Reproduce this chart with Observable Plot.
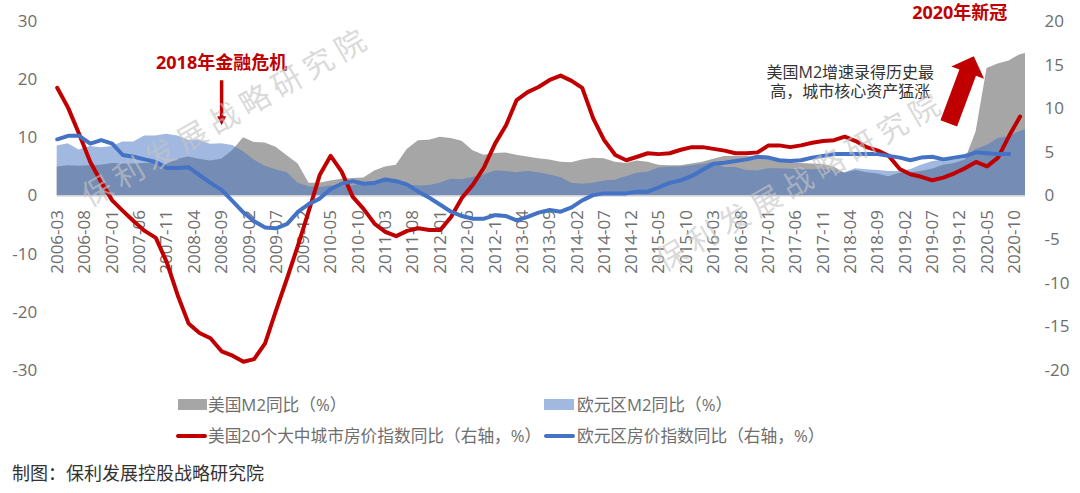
<!DOCTYPE html>
<html><head><meta charset="utf-8">
<script src="https://cdn.jsdelivr.net/npm/d3@7"></script>
<script src="https://cdn.jsdelivr.net/npm/@observablehq/plot@0.6"></script>
<style>
html,body{margin:0;padding:0;background:#fff}
#page{position:relative;width:1080px;height:493px;overflow:hidden;font-family:"Open Sans","Noto Sans CJK SC",sans-serif}
#chart{position:absolute;left:0;top:0}
.lg{position:absolute;font-size:16.7px;line-height:20px;color:#6e6e6e;white-space:nowrap}
.sw{position:absolute}
#cap{position:absolute;left:12px;top:461px;font-size:18px;line-height:24px;color:#333;white-space:nowrap}
</style></head><body>
<div id="page">
<div id="chart"></div>
<div class="sw" style="left:178px;top:399px;width:29px;height:11px;background:#A6A6A6"></div>
<div class="lg" style="left:208px;top:395px">美国M2同比（%）</div>
<div class="sw" style="left:544px;top:399px;width:30px;height:11px;background:#A1B8E1"></div>
<div class="lg" style="left:577px;top:395px">欧元区M2同比（%）</div>
<div class="sw" style="left:176px;top:434px;width:31px;height:4px;border-radius:2px;background:#C00000"></div>
<div class="lg" style="left:208px;top:426px">美国20个大中城市房价指数同比（右轴，%）</div>
<div class="sw" style="left:544px;top:434px;width:31px;height:4px;border-radius:2px;background:#4472C4"></div>
<div class="lg" style="left:577px;top:426px">欧元区房价指数同比（右轴，%）</div>
<div id="cap">制图：保利发展控股战略研究院</div>
</div>
<script>
const tickLabels = ["2006-03","2006-08","2007-01","2007-06","2007-11","2008-04","2008-09","2009-02","2009-07","2009-12","2010-05","2010-10","2011-03","2011-08","2012-01","2012-06","2012-11","2013-04","2013-09","2014-02","2014-07","2014-12","2015-05","2015-10","2016-03","2016-08","2017-01","2017-06","2017-11","2018-04","2018-09","2019-02","2019-07","2019-12","2020-05","2020-10"];

// left axis, %
const usM2 = [5.0,5.2,5.1,5.2,5.3,5.6,5.5,5.5,5.6,5.6,5.4,6.3,6.7,6.3,6.0,6.3,7.8,10.0,9.2,9.1,8.4,6.9,5.5,2.2,2.2,2.6,2.9,3.0,
 3.1,4.3,5.0,5.3,8.0,9.5,9.6,10.1,9.9,9.4,7.8,7.0,7.3,7.4,7.0,6.7,6.4,6.2,5.8,5.7,6.2,6.5,6.4,5.8,5.6,6.0,5.8,5.3,5.2,5.2,5.5,5.8,6.3,
 6.8,6.8,6.8,6.6,6.3,6.0,5.7,5.6,5.5,5.4,5.0,3.9,4.4,4.0,3.8,3.3,3.9,4.0,4.2,4.6,5.3,5.6,6.2,11,21.9,22.7,23.2,24.3,24.5];
const euM2 = [8.6,9.0,7.9,8.5,8.3,8.5,9.3,9.3,10.3,10.3,10.6,10.3,9.6,9.6,8.9,9.0,8.7,7.6,6.2,5.1,4.5,4.0,2.2,1.6,1.4,1.7,1.6,1.7,
 2.2,2.5,2.5,2.4,1.9,1.7,1.8,2.2,2.9,2.8,3.2,3.6,4.3,4.2,4.0,4.2,4.0,3.6,3.2,2.2,2.0,2.2,2.6,2.7,3.3,3.9,4.1,4.8,5.0,5.0,5.2,5.4,5.8,
 4.9,4.9,4.4,4.3,4.7,4.7,4.6,4.5,4.5,4.6,4.3,4.0,4.7,4.5,4.4,4.2,4.2,4.5,5.3,5.9,6.2,6.2,6.5,8.0,8.7,9.9,10.2,11.1,11.4];
// right axis, %
const usHouse = [12.4,10.1,7.1,3.9,1.6,-0.5,-1.7,-2.9,-4.0,-4.8,-7.6,-11.4,-14.6,-15.7,-16.3,-17.8,-18.3,-19.0,-18.7,-16.9,-13.1,-9.4,-5.6,-1.6,2.4,4.6,2.8,-0.1,
 -1.5,-3.2,-4.1,-4.6,-4.0,-3.7,-3.9,-3.9,-2.4,-0.2,1.3,3.3,6.0,8.1,11.0,11.9,12.5,13.3,13.8,13.2,12.4,8.9,6.4,4.7,4.1,4.5,4.9,4.8,4.9,5.3,5.6,5.6,5.4,
 5.2,4.9,4.9,5.0,5.8,5.8,5.6,5.8,6.1,6.3,6.4,6.8,6.3,5.6,5.2,4.6,3.1,2.5,2.2,1.8,2.1,2.6,3.2,3.9,3.4,4.4,6.9,9.1];
const euHouse = [6.5,6.9,6.9,6.0,6.4,6.0,4.7,4.5,4.2,3.9,3.2,3.2,3.3,2.4,1.5,0.7,-0.6,-1.9,-2.9,-3.6,-3.7,-3.2,-1.8,-0.9,-0.3,0.8,1.4,1.7,
 1.4,1.5,1.9,1.7,1.3,0.5,-0.2,-1.0,-1.8,-2.3,-2.6,-2.6,-2.2,-2.3,-2.8,-2.4,-1.9,-1.6,-1.8,-1.3,-0.5,0.1,0.3,0.3,0.3,0.5,0.5,1.0,1.5,1.8,2.3,3.0,3.7,
 3.8,4.0,4.2,4.5,4.4,4.1,4.0,4.1,4.4,4.6,4.8,4.8,4.8,4.8,4.8,4.6,4.4,4.1,4.4,4.5,4.2,4.4,4.6,5.0,4.9,4.8,4.8];

const leftTicks = [-30,-20,-10,0,10,20,30];
const rightTicks = [-20,-15,-10,-5,0,5,10,15,20];
const axisScale = 1.5; // 1 unit of the right axis = 1.5 units of the left axis

const start = new Date(Date.UTC(2006,2,1));
const end = new Date(Date.UTC(2020,11,1));
const months = [...d3.utcMonth.range(start, end, 2), end];
const rows = months.map((date,i)=>({date,usM2:usM2[i],euM2:euM2[i],usHouse:usHouse[i],euHouse:euHouse[i]}));
const ym = s => new Date(s + "-01T00:00:00Z");

const font = '"Open Sans","Noto Sans CJK SC",sans-serif';
const grayText = "#6e6e6e";
const red = "#C00000";

const blockArrow = (shaft, head, headLen) => ({
  draw(c, l) {
    c.moveTo(-shaft/2, 0);
    c.lineTo(-shaft/2, -(l-headLen));
    c.lineTo(-head/2, -(l-headLen));
    c.lineTo(0, -l);
    c.lineTo(head/2, -(l-headLen));
    c.lineTo(shaft/2, -(l-headLen));
    c.lineTo(shaft/2, 0);
    c.closePath();
  }
});

const watermark = "保利发展战略研究院";
const wmStyle = {text:d=>d, fontSize:30, fill:"#c4c4c4", fillOpacity:0.65, rotate:-30, fontFamily:font};

const chart = Plot.plot({
  width:1080, height:400,
  marginTop:21, marginBottom:30, marginLeft:56.7, marginRight:55,
  style:{fontFamily:font, background:"transparent", overflow:"visible"},
  x:{type:"utc", domain:[start,end], axis:null},
  y:{domain:[-30,30], axis:null},
  marks:[
    Plot.areaY(rows,{x:"date",y:"usM2",fill:"#A6A6A6"}),
    Plot.areaY(rows,{x:"date",y:"euM2",fill:"#4472C4",fillOpacity:0.5}),
    Plot.ruleY([0],{stroke:"#D9D9D9",strokeWidth:1.5}),
    Plot.axisY({anchor:"left",ticks:leftTicks,tickSize:0,tickPadding:20,fontSize:17,color:grayText,label:null,tickFormat:d=>String(d)}),
    Plot.axisY({anchor:"right",ticks:rightTicks.map(d=>d*axisScale),tickSize:0,tickPadding:19,fontSize:17,color:grayText,label:null,tickFormat:d=>String(Math.round(d/axisScale))}),
    Plot.text(tickLabels,{x:d=>ym(d),y:()=>0,text:d=>d,rotate:-90,textAnchor:"end",dy:14,fontSize:17,fill:grayText}),
    Plot.line(rows,{x:"date",y:d=>d.usHouse==null?NaN:d.usHouse*axisScale,stroke:red,strokeWidth:4,strokeLinejoin:"round"}),
    Plot.line(rows,{x:"date",y:d=>d.euHouse==null?NaN:d.euHouse*axisScale,stroke:"#4472C4",strokeWidth:4,strokeLinejoin:"round"}),
    Plot.text(["2018年金融危机"],{x:()=>ym("2008-09"),y:()=>22.8,text:d=>d,fontSize:18,fontWeight:"bold",fill:red}),
    Plot.text(["2020年新冠"],{x:()=>ym("2019-12"),y:()=>31.5,text:d=>d,fontSize:18,fontWeight:"bold",fill:red}),
    Plot.text(["美国M2增速录得历史最\n高，城市核心资产猛涨"],{x:()=>ym("2018-04"),y:()=>19.7,text:d=>d,fontSize:16,lineHeight:1.15,fill:"#333"}),
    Plot.vector([0],{x:()=>ym("2008-09"),y:()=>19.9,length:45,rotate:180,anchor:"start",shape:blockArrow(3.5,9,9),fill:red,stroke:"none"}),
    Plot.vector([0],{x:()=>ym("2019-10"),y:()=>12.5,length:71.5,rotate:20.5,anchor:"start",shape:blockArrow(17.7,35,17.5),fill:red,stroke:"none"}),
    Plot.text([watermark],{...wmStyle,x:()=>ym("2008-10"),y:()=>13.5}),
    Plot.text([watermark],{...wmStyle,x:()=>ym("2017-07"),y:()=>2.4})
  ]
});
chart.querySelectorAll('[aria-label="text"] text').forEach(t=>{ if(t.textContent===watermark) t.style.letterSpacing="6.5px"; });
document.getElementById("chart").appendChild(chart);
</script>
</body></html>
